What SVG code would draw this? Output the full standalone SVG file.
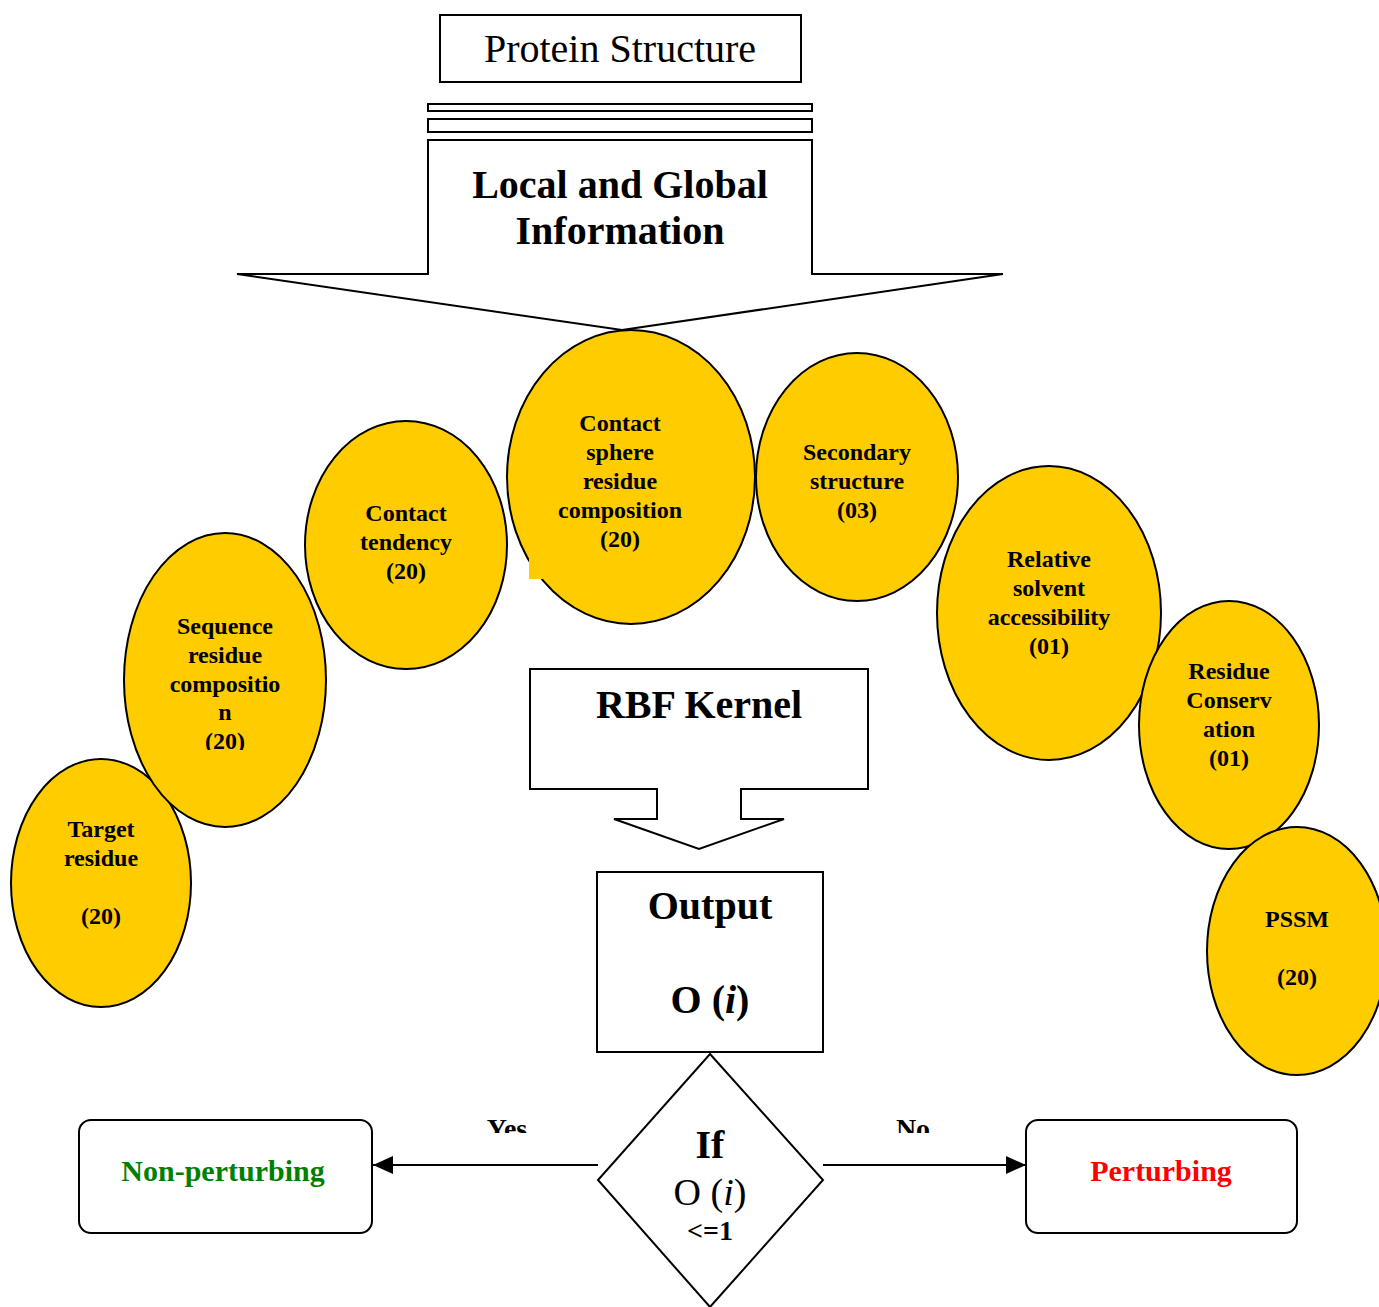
<svg xmlns="http://www.w3.org/2000/svg" width="1379" height="1307" viewBox="0 0 1379 1307">
<style>
.sh{fill:#fff;stroke:#000;stroke-width:2}
.el{fill:#FFCC00;stroke:#000;stroke-width:2}
.t{font-family:"Liberation Serif","Times New Roman",serif;text-anchor:middle;fill:#000}
.b{font-weight:bold}
.et{font-family:"Liberation Serif","Times New Roman",serif;font-weight:bold;font-size:24px;text-anchor:middle}
.ln{stroke:#000;stroke-width:2;fill:none}
</style>
<defs>
<marker id="ah2" markerWidth="20" markerHeight="18" refX="20" refY="9" orient="auto" markerUnits="userSpaceOnUse" viewBox="0 0 20 18">
<path d="M0,0 L20,9 L0,18 z" fill="#000"/>
</marker>
<clipPath id="clipYN"><rect x="0" y="1000" width="1379" height="133"/></clipPath>
<clipPath id="clipSeq"><rect x="0" y="0" width="1379" height="750"/></clipPath>
</defs>

<g id="protein-structure">
<rect class="sh" x="440" y="15" width="361" height="67"/>
<text class="t" x="620" y="62" font-size="40">Protein Structure</text>
</g>

<g id="local-global">
<rect class="sh" x="428" y="104" width="384" height="7"/>
<rect class="sh" x="428" y="119" width="384" height="13"/>
<polygon class="sh" points="428,140 812,140 812,274 1003,274 622,330 237,274 428,274"/>
<text class="t b" x="620" y="198" font-size="40">Local and Global</text>
<text class="t b" x="620" y="244" font-size="40">Information</text>
</g>

<g id="target-residue">
<ellipse class="el" cx="101" cy="883" rx="90" ry="124"/>
<text class="et" x="101" y="837">Target</text>
<text class="et" x="101" y="866">residue</text>
<text class="et" x="101" y="924">(20)</text>
</g>

<g id="sequence-residue">
<ellipse class="el" cx="225" cy="680" rx="101" ry="147"/>
<text class="et" x="225" y="634">Sequence</text>
<text class="et" x="225" y="663">residue</text>
<text class="et" x="225" y="692">compositio</text>
<text class="et" x="225" y="720">n</text>
<text class="et" x="225" y="749" clip-path="url(#clipSeq)">(20)</text>
</g>

<g id="contact-tendency">
<ellipse class="el" cx="406" cy="545" rx="101" ry="124"/>
<text class="et" x="406" y="521">Contact</text>
<text class="et" x="406" y="550">tendency</text>
<text class="et" x="406" y="579">(20)</text>
</g>

<g id="secondary-structure">
<ellipse class="el" cx="857" cy="477" rx="101" ry="124"/>
<text class="et" x="857" y="460">Secondary</text>
<text class="et" x="857" y="489">structure</text>
<text class="et" x="857" y="518">(03)</text>
</g>

<g id="contact-sphere">
<ellipse class="el" cx="631" cy="477" rx="124" ry="147"/>
<rect x="529" y="558" width="15" height="21" fill="#FFCC00"/>
<text class="et" x="620" y="431">Contact</text>
<text class="et" x="620" y="460">sphere</text>
<text class="et" x="620" y="489">residue</text>
<text class="et" x="620" y="518">composition</text>
<text class="et" x="620" y="547">(20)</text>
</g>

<g id="relative-solvent">
<ellipse class="el" cx="1049" cy="613" rx="112" ry="147"/>
<text class="et" x="1049" y="567">Relative</text>
<text class="et" x="1049" y="596">solvent</text>
<text class="et" x="1049" y="625">accessibility</text>
<text class="et" x="1049" y="654">(01)</text>
</g>

<g id="residue-conservation">
<ellipse class="el" cx="1229" cy="725" rx="90" ry="124"/>
<text class="et" x="1229" y="679">Residue</text>
<text class="et" x="1229" y="708">Conserv</text>
<text class="et" x="1229" y="737">ation</text>
<text class="et" x="1229" y="766">(01)</text>
</g>

<g id="pssm">
<ellipse class="el" cx="1297" cy="951" rx="90" ry="124"/>
<text class="et" x="1297" y="927">PSSM</text>
<text class="et" x="1297" y="985">(20)</text>
</g>

<g id="rbf-kernel">
<polygon class="sh" points="530,669 868,669 868,789 741,789 741,819 784,819 699,849 614,819 657,819 657,789 530,789"/>
<text class="t b" x="699" y="718" font-size="40">RBF Kernel</text>
</g>

<g id="output">
<rect class="sh" x="597" y="872" width="226" height="180"/>
<text class="t b" x="710" y="919" font-size="40">Output</text>
<text class="t b" x="710" y="1013" font-size="40">O (<tspan font-style="italic">i</tspan>)</text>
</g>

<g id="decision">
<polygon class="sh" points="710,1054 823,1180 710,1307 598,1180"/>
<text class="t b" x="710" y="1158" font-size="40">If</text>
<text class="t" x="710" y="1205" font-size="38">O (<tspan font-style="italic">i</tspan>)</text>
<text class="t b" x="710" y="1240" font-size="28">&lt;=1</text>
</g>

<g id="non-perturbing">
<rect class="sh" x="79" y="1120" width="293" height="113" rx="12"/>
<text class="t b" x="223" y="1181" font-size="30" style="fill:#008000">Non-perturbing</text>
</g>

<g id="perturbing">
<rect class="sh" x="1026" y="1120" width="271" height="113" rx="12"/>
<text class="t b" x="1161" y="1181" font-size="30" style="fill:#FF0000">Perturbing</text>
</g>

<g id="connectors">
<line class="ln" x1="598" y1="1165" x2="373" y2="1165" marker-end="url(#ah2)"/>
<line class="ln" x1="823" y1="1165" x2="1026" y2="1165" marker-end="url(#ah2)"/>
<g clip-path="url(#clipYN)">
<text class="t b" x="507" y="1138" font-size="28">Yes</text>
<text class="t b" x="913" y="1138" font-size="28">No</text>
</g>
</g>
</svg>
